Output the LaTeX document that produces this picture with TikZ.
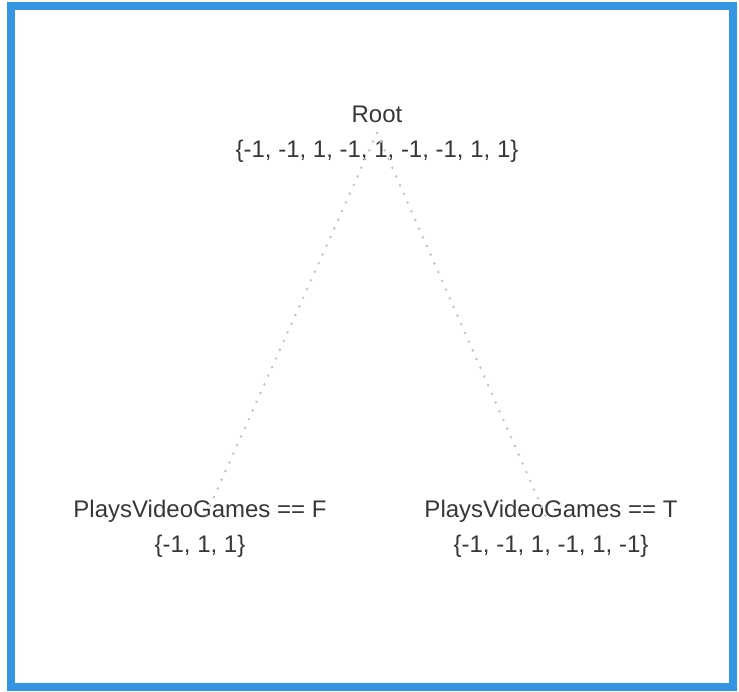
\documentclass[tikz,border=0pt]{standalone}
\usepackage{fontspec}
\setmainfont{Liberation Sans}
\definecolor{frameblue}{RGB}{52,150,226}
\definecolor{textgray}{RGB}{55,55,55}
\definecolor{dotgray}{RGB}{195,195,195}
\begin{document}
\begin{tikzpicture}[x=1pt,y=-1pt,
  treenode/.style={align=center,inner sep=0pt,text=textgray,
    font=\fontsize{24}{34.5}\selectfont},
  link/.style={draw=dotgray,line width=2.8pt,line cap=round,
    dash pattern=on 0pt off 9.5pt,shorten >=9pt}]
  \useasboundingbox (0,0) rectangle (739,691);
  % outer frame
  \draw[frameblue,line width=8pt] (11,6) rectangle (733,687);
  % tree nodes
  \node[treenode] (root)  at (377,133) {\strut Root\\\strut \{-1, -1, 1, -1, 1, -1, -1, 1, 1\}};
  \node[treenode] (left)  at (200,528) {\strut PlaysVideoGames == F\\\strut \{-1, 1, 1\}};
  \node[treenode] (right) at (551,528) {\strut PlaysVideoGames == T\\\strut \{-1, -1, 1, -1, 1, -1\}};
  % dotted branches
  \draw[link] (root.center) -- (left.center);
  \draw[link] (root.center) -- (right.center);
\end{tikzpicture}
\end{document}
